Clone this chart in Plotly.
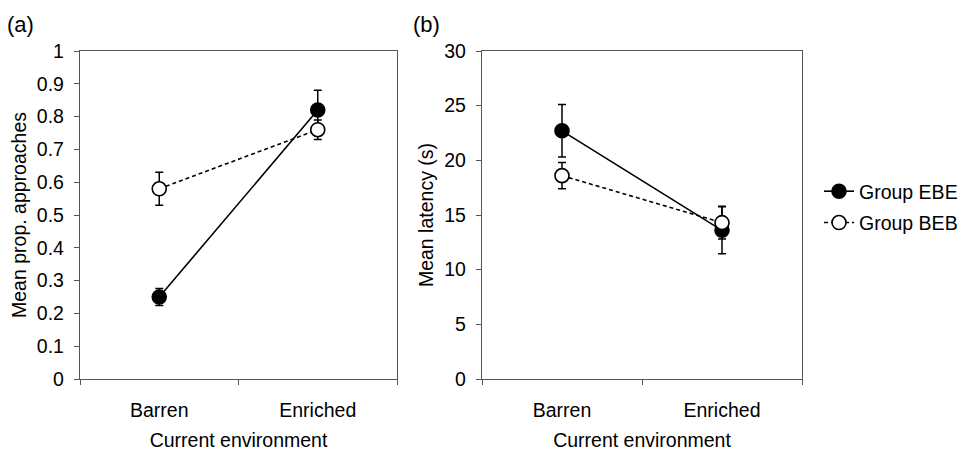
import plotly.graph_objects as go

categories = ["Barren", "Enriched"]
cat_pos = [0, 1]

# Panel (a): mean proportion of approaches
a_ebe = [0.25, 0.82]
a_ebe_err = [0.026, 0.06]
a_beb = [0.58, 0.76]
a_beb_err = [0.05, 0.03]

# Panel (b): mean latency (s)
b_ebe = [22.7, 13.6]
b_ebe_err = [2.4, 2.15]
b_beb = [18.6, 14.3]
b_beb_err = [1.2, 1.5]

a_ticks = [0, 0.1, 0.2, 0.3, 0.4, 0.5, 0.6, 0.7, 0.8, 0.9, 1]
b_ticks = [0, 5, 10, 15, 20, 25, 30]

FONT = "Liberation Sans, Arial, sans-serif"
FS = 19.5
AX = "#555555"

# page body adds an 8px margin; work in screen coordinates minus that offset
OFF = 8
W, H = 969 - OFF, 452 - OFF

def px(x):
    return (x - OFF) / W

def py(y):
    return 1 - (y - OFF) / H

fig = go.Figure()

def add_group(xaxis, yaxis, y, err, name, filled, dash, show):
    fig.add_trace(go.Scatter(
        x=cat_pos, y=y, xaxis=xaxis, yaxis=yaxis, name=name,
        mode="lines+markers", showlegend=show, legendgroup=name,
        line=dict(color="black", width=1.6, dash=dash),
        marker=dict(size=14, symbol="circle",
                    color="black" if filled else "white",
                    line=dict(color="black", width=1.6)),
        error_y=dict(type="data", array=err, visible=True,
                     color="black", thickness=1.5, width=4),
    ))

add_group("x", "y", a_ebe, a_ebe_err, "Group EBE", True, "solid", True)
add_group("x", "y", a_beb, a_beb_err, "Group BEB", False, "4px,3px", True)
add_group("x2", "y2", b_ebe, b_ebe_err, "Group EBE", True, "solid", False)
add_group("x2", "y2", b_beb, b_beb_err, "Group BEB", False, "4px,3px", False)

ytop, ybot = 51, 379
ydom = [py(ybot), py(ytop)]

def xaxis_cfg(left, right):
    return dict(
        domain=[px(left), px(right)], range=[-0.5, 1.5],
        tickvals=cat_pos, ticktext=categories,
        ticks="outside", ticklen=13, tickcolor="rgba(0,0,0,0)",
        minor=dict(tickvals=[-0.5, 0.5, 1.5], ticks="outside", ticklen=5,
                   tickwidth=1.3, tickcolor=AX),
        showline=True, linecolor=AX, linewidth=1.3, mirror=True,
        showgrid=False, zeroline=False, fixedrange=True,
        tickfont=dict(family=FONT, size=FS, color="black"),
        title=dict(text="Current environment", standoff=13,
                   font=dict(family=FONT, size=FS, color="black")),
        automargin=False,
    )

def yaxis_cfg(rng, ticks, title, anchor):
    return dict(
        domain=ydom, range=rng, tickvals=ticks, anchor=anchor,
        ticks="outside", ticklen=5, tickwidth=1.3, tickcolor=AX,
        ticklabelstandoff=6,
        showline=True, linecolor=AX, linewidth=1.3, mirror=True,
        showgrid=False, zeroline=False, fixedrange=True,
        tickfont=dict(family=FONT, size=FS, color="black"),
        title=dict(text=title, standoff=5,
                   font=dict(family=FONT, size=FS, color="black")),
        automargin=False,
    )

fig.update_layout(
    width=W, height=H,
    margin=dict(l=0, r=0, t=0, b=0),
    paper_bgcolor="white", plot_bgcolor="white",
    font=dict(family=FONT, size=FS, color="black"),
    xaxis=xaxis_cfg(80, 397),
    yaxis=yaxis_cfg([0, 1], a_ticks, "Mean prop. approaches", "x"),
    xaxis2=xaxis_cfg(482, 802),
    yaxis2=yaxis_cfg([0, 30], b_ticks, "Mean latency (s)", "x2"),
    legend=dict(x=px(819), y=py(172), xanchor="left", yanchor="top",
                bgcolor="rgba(0,0,0,0)", tracegroupgap=3,
                font=dict(family=FONT, size=FS, color="black")),
    annotations=[
        dict(text="(a)", x=px(5), y=py(25), xref="paper", yref="paper",
             xanchor="left", yanchor="middle", showarrow=False,
             font=dict(family=FONT, size=22, color="black")),
        dict(text="(b)", x=px(411), y=py(25), xref="paper", yref="paper",
             xanchor="left", yanchor="middle", showarrow=False,
             font=dict(family=FONT, size=22, color="black")),
    ],
)

fig.write_html("out.html")
